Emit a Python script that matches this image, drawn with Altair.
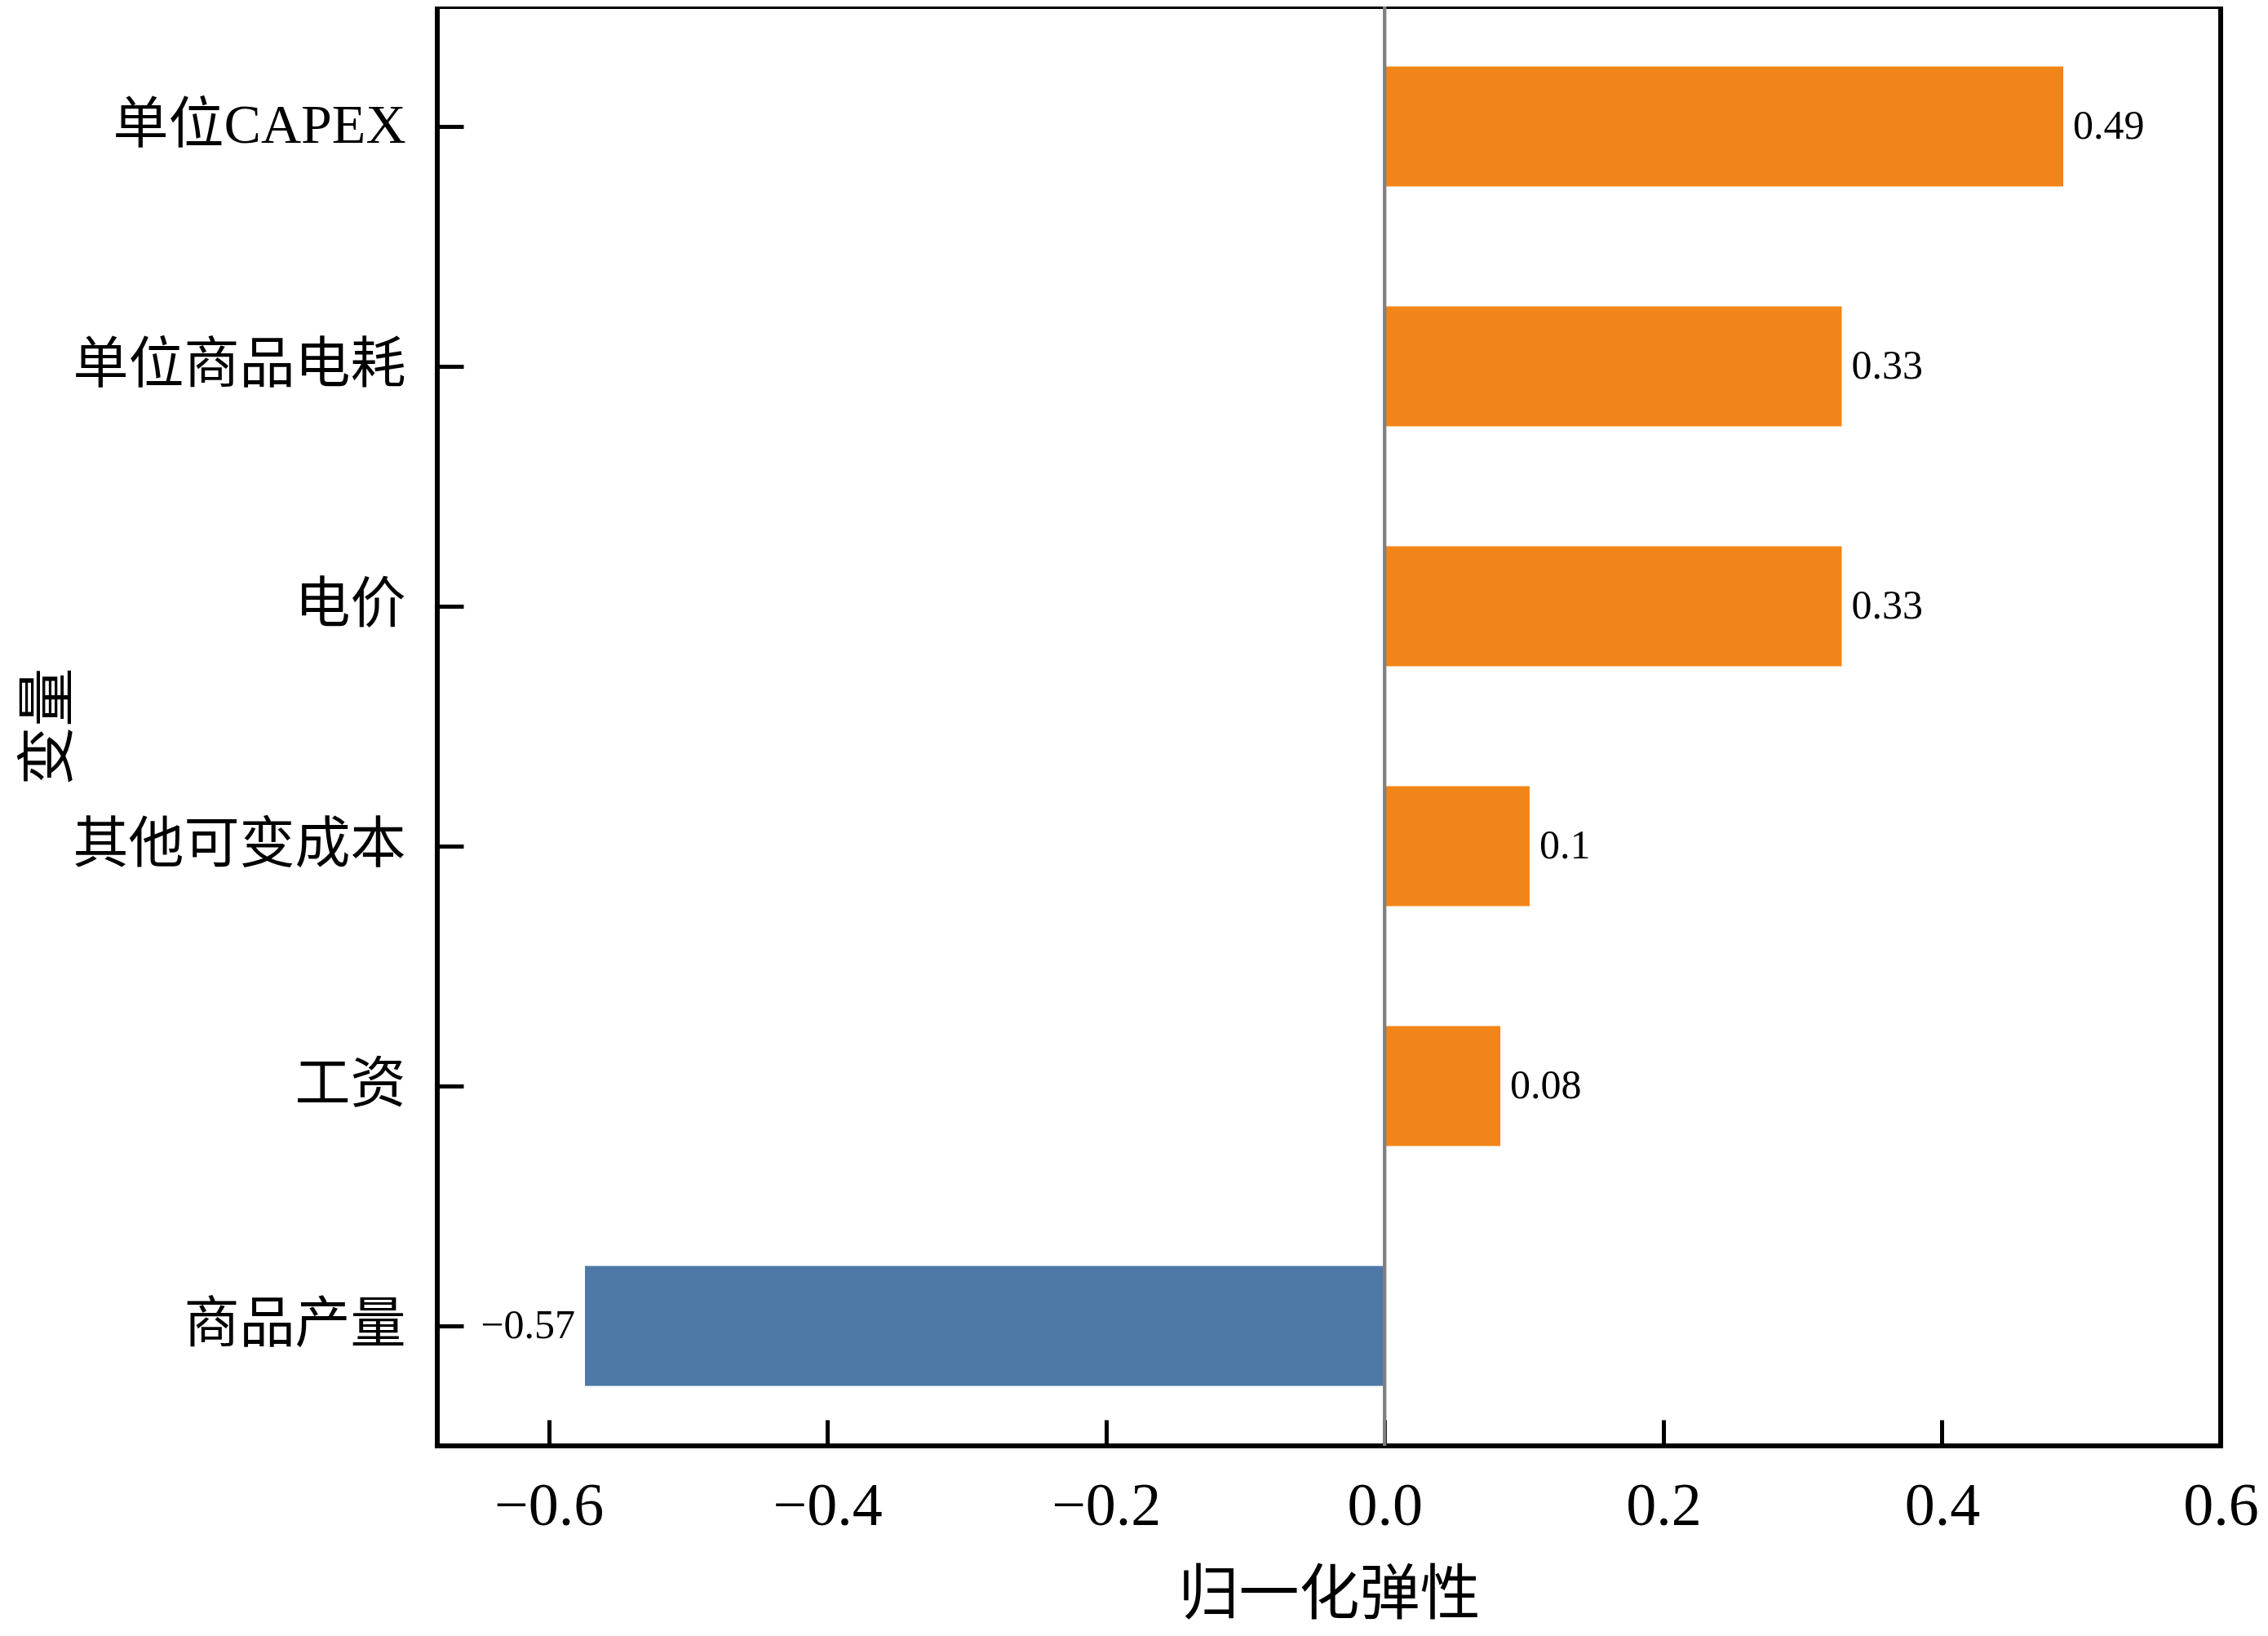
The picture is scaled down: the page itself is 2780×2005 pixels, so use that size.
import altair as alt
import pandas as pd

categories = ["单位CAPEX", "单位商品电耗", "电价", "其他可变成本", "工资", "商品产量"]
values = [0.487, 0.328, 0.328, 0.104, 0.083, -0.574]
labels = ["0.49", "0.33", "0.33", "0.1", "0.08", "−0.57"]
x_ticks = [-0.6, -0.4, -0.2, 0.0, 0.2, 0.4, 0.6]
x_domain = [-0.68, 0.6]

df = pd.DataFrame({"var": categories, "val": values, "lab": labels})

FONT = "Liberation Serif, Noto Sans CJK SC"
W, H = 2186, 1764
ORANGE = "#F28519"
BLUE = "#4E79A7"

x_scale = alt.Scale(domain=x_domain, nice=False, zero=False)
y_scale = alt.Scale(domain=categories, paddingInner=0.5, paddingOuter=0.25)

base = alt.Chart(df)

bars = base.mark_bar().encode(
    x=alt.X(
        "val:Q",
        scale=x_scale,
        axis=alt.Axis(
            values=x_ticks,
            format=".1f",
            title="归一化弹性",
            offset=-32,
            tickSize=32,
            tickWidth=5,
            tickColor="black",
            domain=False,
            grid=False,
            labelFontSize=74,
            labelPadding=38,
            labelFlush=False,
            labelOverlap=False,
            titleFontSize=74,
            titlePadding=36,
        ),
    ),
    x2=alt.datum(0),
    y=alt.Y(
        "var:N",
        sort=categories,
        scale=y_scale,
        axis=alt.Axis(
            title="变量",
            offset=-32,
            tickSize=32,
            tickWidth=5,
            tickColor="black",
            domain=False,
            grid=False,
            labelFontSize=68,
            labelPadding=39,
            labelLimit=0,
            titleFontSize=72,
            titlePadding=272,
        ),
    ),
    color=alt.condition("datum.val < 0", alt.value(BLUE), alt.value(ORANGE)),
)

zero_rule = alt.Chart(df).mark_rule(color="#808080", strokeWidth=3.5).encode(
    x=alt.datum(0, scale=x_scale)
)

pos_text = base.transform_filter("datum.val >= 0").mark_text(
    align="left", baseline="middle", dx=12, fontSize=50, font=FONT, color="black"
).encode(
    x=alt.X("val:Q", scale=x_scale),
    y=alt.Y("var:N", sort=categories, scale=y_scale),
    text="lab:N",
)

neg_text = base.transform_filter("datum.val < 0").mark_text(
    align="right", baseline="middle", dx=-12, fontSize=50, font=FONT, color="black"
).encode(
    x=alt.X("val:Q", scale=x_scale),
    y=alt.Y("var:N", sort=categories, scale=y_scale),
    text="lab:N",
)

chart = (
    alt.layer(bars, zero_rule, pos_text, neg_text)
    .properties(
        width=W,
        height=H,
        autosize=alt.AutoSizeParams(type="none"),
        padding={"left": 528, "top": 0, "right": 46, "bottom": 225},
        background="white",
    )
    .configure_view(stroke="black", strokeWidth=6)
    .configure_axis(
        labelFont=FONT,
        titleFont=FONT,
        labelColor="black",
        titleColor="black",
        titleFontWeight="normal",
    )
)

chart.save("out.html", embed_options={"renderer": "svg", "actions": False})
